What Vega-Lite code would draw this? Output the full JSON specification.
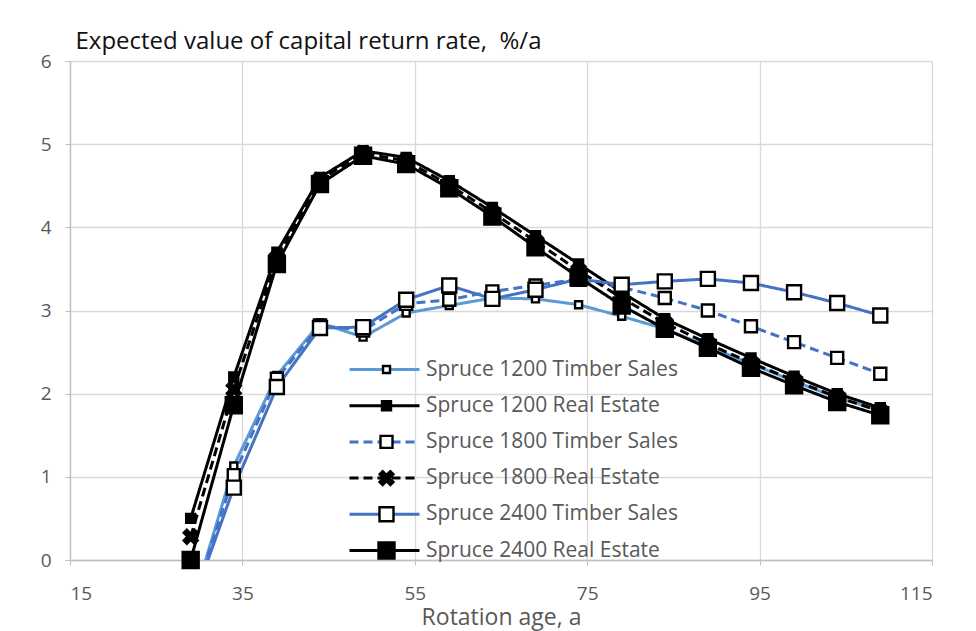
{
  "$schema": "https://vega.github.io/schema/vega-lite/v6.json",
  "autosize": {"type": "none"},
  "width": 862,
  "height": 499,
  "padding": {"left": 70, "top": 61, "right": 44, "bottom": 71},
  "background": "white",
  "config": {
    "font": "Open Sans",
    "view": {"stroke": null},
    "axis": {
      "gridColor": "#D9D9D9",
      "gridWidth": 1.3,
      "domainColor": "#BFBFBF",
      "domainWidth": 1.3,
      "tickColor": "#BFBFBF",
      "tickSize": 5,
      "labelColor": "#595959",
      "labelFontSize": 19,
      "labelFont": "Open Sans"
    }
  },
  "data": {
    "values": [
      {"series": "Spruce 1200 Timber Sales", "age": 29, "rate": -0.6},
      {"series": "Spruce 1200 Timber Sales", "age": 34, "rate": 1.13},
      {"series": "Spruce 1200 Timber Sales", "age": 39, "rate": 2.22},
      {"series": "Spruce 1200 Timber Sales", "age": 44, "rate": 2.85},
      {"series": "Spruce 1200 Timber Sales", "age": 49, "rate": 2.68},
      {"series": "Spruce 1200 Timber Sales", "age": 54, "rate": 2.97},
      {"series": "Spruce 1200 Timber Sales", "age": 59, "rate": 3.06},
      {"series": "Spruce 1200 Timber Sales", "age": 64, "rate": 3.15},
      {"series": "Spruce 1200 Timber Sales", "age": 69, "rate": 3.14},
      {"series": "Spruce 1200 Timber Sales", "age": 74, "rate": 3.07},
      {"series": "Spruce 1200 Timber Sales", "age": 79, "rate": 2.93},
      {"series": "Spruce 1200 Timber Sales", "age": 84, "rate": 2.78},
      {"series": "Spruce 1200 Timber Sales", "age": 89, "rate": 2.57},
      {"series": "Spruce 1200 Timber Sales", "age": 94, "rate": 2.36},
      {"series": "Spruce 1200 Timber Sales", "age": 99, "rate": 2.15},
      {"series": "Spruce 1200 Timber Sales", "age": 104, "rate": 1.95},
      {"series": "Spruce 1200 Timber Sales", "age": 109, "rate": 1.8},

      {"series": "Spruce 1200 Real Estate", "age": 29, "rate": 0.5},
      {"series": "Spruce 1200 Real Estate", "age": 34, "rate": 2.2},
      {"series": "Spruce 1200 Real Estate", "age": 39, "rate": 3.7},
      {"series": "Spruce 1200 Real Estate", "age": 44, "rate": 4.6},
      {"series": "Spruce 1200 Real Estate", "age": 49, "rate": 4.92},
      {"series": "Spruce 1200 Real Estate", "age": 54, "rate": 4.84},
      {"series": "Spruce 1200 Real Estate", "age": 59, "rate": 4.56},
      {"series": "Spruce 1200 Real Estate", "age": 64, "rate": 4.24},
      {"series": "Spruce 1200 Real Estate", "age": 69, "rate": 3.9},
      {"series": "Spruce 1200 Real Estate", "age": 74, "rate": 3.56},
      {"series": "Spruce 1200 Real Estate", "age": 79, "rate": 3.22},
      {"series": "Spruce 1200 Real Estate", "age": 84, "rate": 2.9},
      {"series": "Spruce 1200 Real Estate", "age": 89, "rate": 2.66},
      {"series": "Spruce 1200 Real Estate", "age": 94, "rate": 2.43},
      {"series": "Spruce 1200 Real Estate", "age": 99, "rate": 2.21},
      {"series": "Spruce 1200 Real Estate", "age": 104, "rate": 2.0},
      {"series": "Spruce 1200 Real Estate", "age": 109, "rate": 1.83},

      {"series": "Spruce 1800 Timber Sales", "age": 29, "rate": -0.6},
      {"series": "Spruce 1800 Timber Sales", "age": 34, "rate": 1.02},
      {"series": "Spruce 1800 Timber Sales", "age": 39, "rate": 2.18},
      {"series": "Spruce 1800 Timber Sales", "age": 44, "rate": 2.82},
      {"series": "Spruce 1800 Timber Sales", "age": 49, "rate": 2.76},
      {"series": "Spruce 1800 Timber Sales", "age": 54, "rate": 3.08},
      {"series": "Spruce 1800 Timber Sales", "age": 59, "rate": 3.13},
      {"series": "Spruce 1800 Timber Sales", "age": 64, "rate": 3.23},
      {"series": "Spruce 1800 Timber Sales", "age": 69, "rate": 3.3},
      {"series": "Spruce 1800 Timber Sales", "age": 74, "rate": 3.38},
      {"series": "Spruce 1800 Timber Sales", "age": 79, "rate": 3.28},
      {"series": "Spruce 1800 Timber Sales", "age": 84, "rate": 3.15},
      {"series": "Spruce 1800 Timber Sales", "age": 89, "rate": 3.0},
      {"series": "Spruce 1800 Timber Sales", "age": 94, "rate": 2.81},
      {"series": "Spruce 1800 Timber Sales", "age": 99, "rate": 2.62},
      {"series": "Spruce 1800 Timber Sales", "age": 104, "rate": 2.43},
      {"series": "Spruce 1800 Timber Sales", "age": 109, "rate": 2.24},

      {"series": "Spruce 1800 Real Estate", "age": 29, "rate": 0.28},
      {"series": "Spruce 1800 Real Estate", "age": 34, "rate": 2.05},
      {"series": "Spruce 1800 Real Estate", "age": 39, "rate": 3.63},
      {"series": "Spruce 1800 Real Estate", "age": 44, "rate": 4.57},
      {"series": "Spruce 1800 Real Estate", "age": 49, "rate": 4.89},
      {"series": "Spruce 1800 Real Estate", "age": 54, "rate": 4.8},
      {"series": "Spruce 1800 Real Estate", "age": 59, "rate": 4.51},
      {"series": "Spruce 1800 Real Estate", "age": 64, "rate": 4.18},
      {"series": "Spruce 1800 Real Estate", "age": 69, "rate": 3.83},
      {"series": "Spruce 1800 Real Estate", "age": 74, "rate": 3.48},
      {"series": "Spruce 1800 Real Estate", "age": 79, "rate": 3.15},
      {"series": "Spruce 1800 Real Estate", "age": 84, "rate": 2.85},
      {"series": "Spruce 1800 Real Estate", "age": 89, "rate": 2.6},
      {"series": "Spruce 1800 Real Estate", "age": 94, "rate": 2.37},
      {"series": "Spruce 1800 Real Estate", "age": 99, "rate": 2.16},
      {"series": "Spruce 1800 Real Estate", "age": 104, "rate": 1.96},
      {"series": "Spruce 1800 Real Estate", "age": 109, "rate": 1.79},

      {"series": "Spruce 2400 Timber Sales", "age": 29, "rate": -0.58},
      {"series": "Spruce 2400 Timber Sales", "age": 34, "rate": 0.87},
      {"series": "Spruce 2400 Timber Sales", "age": 39, "rate": 2.08},
      {"series": "Spruce 2400 Timber Sales", "age": 44, "rate": 2.79},
      {"series": "Spruce 2400 Timber Sales", "age": 49, "rate": 2.8},
      {"series": "Spruce 2400 Timber Sales", "age": 54, "rate": 3.13},
      {"series": "Spruce 2400 Timber Sales", "age": 59, "rate": 3.3},
      {"series": "Spruce 2400 Timber Sales", "age": 64, "rate": 3.14},
      {"series": "Spruce 2400 Timber Sales", "age": 69, "rate": 3.25},
      {"series": "Spruce 2400 Timber Sales", "age": 74, "rate": 3.38},
      {"series": "Spruce 2400 Timber Sales", "age": 79, "rate": 3.31},
      {"series": "Spruce 2400 Timber Sales", "age": 84, "rate": 3.35},
      {"series": "Spruce 2400 Timber Sales", "age": 89, "rate": 3.38},
      {"series": "Spruce 2400 Timber Sales", "age": 94, "rate": 3.33},
      {"series": "Spruce 2400 Timber Sales", "age": 99, "rate": 3.22},
      {"series": "Spruce 2400 Timber Sales", "age": 104, "rate": 3.09},
      {"series": "Spruce 2400 Timber Sales", "age": 109, "rate": 2.94},

      {"series": "Spruce 2400 Real Estate", "age": 29, "rate": 0.0},
      {"series": "Spruce 2400 Real Estate", "age": 34, "rate": 1.86},
      {"series": "Spruce 2400 Real Estate", "age": 39, "rate": 3.56},
      {"series": "Spruce 2400 Real Estate", "age": 44, "rate": 4.52},
      {"series": "Spruce 2400 Real Estate", "age": 49, "rate": 4.86},
      {"series": "Spruce 2400 Real Estate", "age": 54, "rate": 4.76},
      {"series": "Spruce 2400 Real Estate", "age": 59, "rate": 4.47},
      {"series": "Spruce 2400 Real Estate", "age": 64, "rate": 4.13},
      {"series": "Spruce 2400 Real Estate", "age": 69, "rate": 3.76},
      {"series": "Spruce 2400 Real Estate", "age": 74, "rate": 3.4},
      {"series": "Spruce 2400 Real Estate", "age": 79, "rate": 3.06},
      {"series": "Spruce 2400 Real Estate", "age": 84, "rate": 2.78},
      {"series": "Spruce 2400 Real Estate", "age": 89, "rate": 2.55},
      {"series": "Spruce 2400 Real Estate", "age": 94, "rate": 2.31},
      {"series": "Spruce 2400 Real Estate", "age": 99, "rate": 2.1},
      {"series": "Spruce 2400 Real Estate", "age": 104, "rate": 1.9},
      {"series": "Spruce 2400 Real Estate", "age": 109, "rate": 1.74}
    ]
  },
  "encoding": {
    "x": {
      "field": "age",
      "type": "quantitative",
      "scale": {"domain": [15, 115], "nice": false, "zero": false},
      "axis": {
        "values": [15, 35, 55, 75, 95, 115],
        "title": "Rotation age, a",
        "titleFontSize": 23,
        "titleFont": "Open Sans",
        "titleFontWeight": "normal",
        "titleColor": "#595959",
        "titlePadding": 3,
        "labelPadding": 19,
        "encode": {"labels": {"update": {"align": {"signal": "datum.value == 15 ? 'left' : 'center'"}}}}
      }
    },
    "y": {
      "field": "rate",
      "type": "quantitative",
      "scale": {"domain": [0, 6], "nice": false},
      "axis": {
        "orient": "left",
        "values": [0, 1, 2, 3, 4, 5, 6],
        "tickSize": 5,
        "labelPadding": 14,
        "labelAlign": "right",
        "labelBaseline": "middle",
        "title": "Expected value of capital return rate, \u00a0%/a",
        "titleAngle": 0,
        "titleAlign": "left",
        "titleBaseline": "alphabetic",
        "titleX": 5,
        "titleY": -13,
        "titleFontSize": 24,
        "titleFont": "Open Sans",
        "titleFontWeight": "normal",
        "titleColor": "#111111"
      }
    }
  },
  "layer": [
    {
      "mark": {"type": "line", "clip": true, "strokeWidth": 3},
      "encoding": {
        "color": {
          "field": "series",
          "type": "nominal",
          "scale": {
            "domain": ["Spruce 1200 Timber Sales", "Spruce 1200 Real Estate", "Spruce 1800 Timber Sales", "Spruce 1800 Real Estate", "Spruce 2400 Timber Sales", "Spruce 2400 Real Estate"],
            "range": ["#5B9BD5", "#000000", "#4472C4", "#000000", "#4472C4", "#000000"]
          },
          "legend": {
            "orient": "none",
            "legendX": 278,
            "legendY": 296,
            "title": null,
            "padding": 0,
            "clipHeight": 25,
            "symbolType": "stroke",
            "symbolSize": 4900,
            "symbolStrokeWidth": 3,
            "labelFontSize": 21,
            "labelFont": "Open Sans",
            "labelColor": "#595959",
            "labelOffset": 5,
            "rowPadding": 11.2,
            "labelLimit": 400
          }
        },
        "strokeDash": {
          "field": "series",
          "type": "nominal",
          "scale": {
            "domain": ["Spruce 1200 Timber Sales", "Spruce 1200 Real Estate", "Spruce 1800 Timber Sales", "Spruce 1800 Real Estate", "Spruce 2400 Timber Sales", "Spruce 2400 Real Estate"],
            "range": [[1, 0], [1, 0], [9, 5], [9, 5], [1, 0], [1, 0]]
          },
          "legend": {
            "orient": "none",
            "legendX": 278,
            "legendY": 296,
            "title": null,
            "padding": 0,
            "clipHeight": 25,
            "symbolType": "stroke",
            "symbolSize": 4900,
            "symbolStrokeWidth": 3,
            "labelFontSize": 21,
            "labelFont": "Open Sans",
            "labelColor": "#595959",
            "labelOffset": 5,
            "rowPadding": 11.2,
            "labelLimit": 400
          }
        }
      }
    },
    {
      "transform": [{"filter": "datum.rate >= 0"}],
      "mark": {"type": "point", "filled": true, "stroke": "black", "strokeWidth": 2.4, "opacity": 1},
      "encoding": {
        "shape": {
          "field": "series",
          "type": "nominal",
          "scale": {
            "domain": ["Spruce 2400 Real Estate", "Spruce 2400 Timber Sales", "Spruce 1800 Real Estate", "Spruce 1800 Timber Sales", "Spruce 1200 Real Estate", "Spruce 1200 Timber Sales"],
            "range": ["square", "square", "M-1,-0.55L-0.55,-1L0,-0.45L0.55,-1L1,-0.55L0.45,0L1,0.55L0.55,1L0,0.45L-0.55,1L-1,0.55L-0.45,0Z", "square", "square", "square"]
          },
          "legend": {
            "orient": "none",
            "legendX": 306,
            "legendY": 296,
            "title": null,
            "padding": 0,
            "clipHeight": 25,
            "values": ["Spruce 1200 Timber Sales", "Spruce 1200 Real Estate", "Spruce 1800 Timber Sales", "Spruce 1800 Real Estate", "Spruce 2400 Timber Sales", "Spruce 2400 Real Estate"],
            "symbolStrokeColor": "black",
            "symbolStrokeWidth": 2.4,
            "labelFontSize": 21,
            "labelExpr": "''",
            "labelOffset": 0,
            "rowPadding": 11.2
          }
        },
        "fill": {
          "field": "series",
          "type": "nominal",
          "scale": {
            "domain": ["Spruce 2400 Real Estate", "Spruce 2400 Timber Sales", "Spruce 1800 Real Estate", "Spruce 1800 Timber Sales", "Spruce 1200 Real Estate", "Spruce 1200 Timber Sales"],
            "range": ["#000000", "#FFFFFF", "#000000", "#FFFFFF", "#000000", "#FFFFFF"]
          },
          "legend": {
            "orient": "none",
            "legendX": 306,
            "legendY": 296,
            "title": null,
            "padding": 0,
            "clipHeight": 25,
            "values": ["Spruce 1200 Timber Sales", "Spruce 1200 Real Estate", "Spruce 1800 Timber Sales", "Spruce 1800 Real Estate", "Spruce 2400 Timber Sales", "Spruce 2400 Real Estate"],
            "symbolStrokeColor": "black",
            "symbolStrokeWidth": 2.4,
            "labelFontSize": 21,
            "labelExpr": "''",
            "labelOffset": 0,
            "rowPadding": 11.2
          }
        },
        "stroke": {
          "field": "series",
          "type": "nominal",
          "scale": {
            "domain": ["Spruce 2400 Real Estate", "Spruce 2400 Timber Sales", "Spruce 1800 Real Estate", "Spruce 1800 Timber Sales", "Spruce 1200 Real Estate", "Spruce 1200 Timber Sales"],
            "range": ["#000000", "#000000", "#000000", "#000000", "#000000", "#000000"]
          },
          "legend": {
            "orient": "none",
            "legendX": 306,
            "legendY": 296,
            "title": null,
            "padding": 0,
            "clipHeight": 25,
            "values": ["Spruce 1200 Timber Sales", "Spruce 1200 Real Estate", "Spruce 1800 Timber Sales", "Spruce 1800 Real Estate", "Spruce 2400 Timber Sales", "Spruce 2400 Real Estate"],
            "symbolStrokeWidth": 2.4,
            "labelFontSize": 21,
            "labelExpr": "''",
            "labelOffset": 0,
            "rowPadding": 11.2
          }
        },
        "size": {
          "field": "series",
          "type": "nominal",
          "scale": {
            "type": "ordinal",
            "domain": ["Spruce 2400 Real Estate", "Spruce 2400 Timber Sales", "Spruce 1800 Real Estate", "Spruce 1800 Timber Sales", "Spruce 1200 Real Estate", "Spruce 1200 Timber Sales"],
            "range": [256, 196, 196, 144, 81, 49]
          },
          "legend": {
            "orient": "none",
            "legendX": 306,
            "legendY": 296,
            "title": null,
            "padding": 0,
            "clipHeight": 25,
            "values": ["Spruce 1200 Timber Sales", "Spruce 1200 Real Estate", "Spruce 1800 Timber Sales", "Spruce 1800 Real Estate", "Spruce 2400 Timber Sales", "Spruce 2400 Real Estate"],
            "symbolStrokeColor": "black",
            "symbolStrokeWidth": 2.4,
            "labelFontSize": 21,
            "labelExpr": "''",
            "labelOffset": 0,
            "rowPadding": 11.2
          }
        }
      }
    }
  ]
}
